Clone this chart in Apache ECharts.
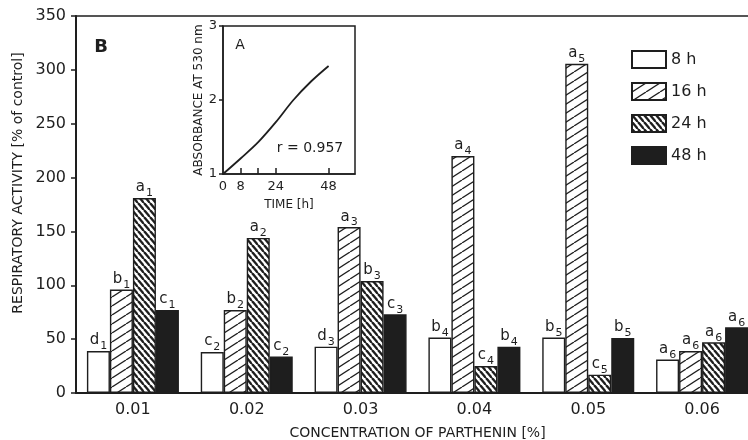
<!DOCTYPE html>
<html>
<head>
<meta charset="utf-8">
<title>Respiratory activity / parthenin</title>
<script src="https://cdn.jsdelivr.net/npm/echarts@6.0.0/dist/echarts.min.js"></script>
<style>
  html, body { margin: 0; padding: 0; background: #fff; }
  #chart { width: 748px; height: 440px; }
</style>
</head>
<body>
<div id="chart"></div>
<script>
// concentration categories
var concentrations = ['0.01', '0.02', '0.03', '0.04', '0.05', '0.06']
var seriesNames = ['8 h', '16 h', '24 h', '48 h']

// respiratory activity [% of control]
var resp8h  = [39, 38, 43, 51.5, 51.5, 31]
var resp16h = [96, 77, 154, 220, 305.6, 39]
var resp24h = [181, 144, 104, 25, 17, 47]
var resp48h = [77, 34, 73, 43, 51, 61]

// significance letters above bars
var labels8h  = ['d1', 'c2', 'd3', 'b4', 'b5', 'a6']
var labels16h = ['b1', 'b2', 'a3', 'a4', 'a5', 'a6']
var labels24h = ['a1', 'a2', 'b3', 'c4', 'c5', 'a6']
var labels48h = ['c1', 'c2', 'c3', 'b4', 'b5', 'a6']

// inset A: absorbance vs time
var insetTime = [0, 8, 16, 24, 32, 40, 48]
var insetAbs  = [1.0, 1.21, 1.43, 1.70, 2.00, 2.25, 2.46]
var insetTimeLabels = [0, 8, 24, 48]
var insetTimeTicks  = [8, 16, 24, 48]

var ink = '#1e1e1e'
var font = 'DejaVu Sans'

// hatch fill tiles
function hatch(w, h, dir, lw) {
    var c = document.createElement('canvas')
    c.width = w
    c.height = h
    var ctx = c.getContext('2d')
    ctx.fillStyle = '#fff'
    ctx.fillRect(0, 0, w, h)
    ctx.strokeStyle = ink
    ctx.lineWidth = lw
    for (var k = -1; k <= 1; k++) {
        ctx.beginPath()
        if (dir === '/') {
            ctx.moveTo(k * w, h)
            ctx.lineTo(k * w + w, 0)
        } else {
            ctx.moveTo(k * w, 0)
            ctx.lineTo(k * w + w, h)
        }
        ctx.stroke()
    }
    return c
}

var fills = [
    '#fff',
    { image: hatch(14, 9, '/', 1.3), repeat: 'repeat' },
    { image: hatch(6, 7, '\\', 2.4), repeat: 'repeat' },
    ink
]

function barSeries(name, data, labels, color) {
    return {
        name: name,
        type: 'bar',
        xAxisIndex: 0,
        yAxisIndex: 0,
        data: data,
        barWidth: 23,
        barGap: '0%',
        itemStyle: { color: color, borderColor: ink, borderWidth: 1.4 },
        label: {
            show: true,
            position: 'top',
            distance: 2,
            formatter: function (p) {
                var s = labels[p.dataIndex]
                return '{l|' + s.charAt(0) + '}{s|' + s.slice(1) + '}'
            },
            rich: {
                l: { fontFamily: font, fontSize: 15, color: ink, lineHeight: 16, verticalAlign: 'top' },
                s: { fontFamily: font, fontSize: 11, color: ink, lineHeight: 11, padding: [8, 0, 0, 1], verticalAlign: 'top' }
            }
        },
        emphasis: { disabled: true }
    }
}

var inset = []
for (var i = 0; i < insetTime.length; i++) {
    inset.push([insetTime[i], insetAbs[i]])
}

var chart = echarts.init(document.getElementById('chart'))
var option = {
    animation: false,
    backgroundColor: '#fff',
    textStyle: { fontFamily: font, color: ink },
    legend: {
        data: seriesNames,
        orient: 'vertical',
        left: 626,
        top: 45,
        icon: 'rect',
        itemWidth: 34,
        itemHeight: 17,
        itemGap: 13,
        textStyle: { fontFamily: font, fontSize: 16, color: ink },
        selectedMode: false
    },
    grid: [
        { left: 76, right: -11, top: 16, bottom: 47, outerBoundsMode: 'none', containLabel: false },
        { left: 223, top: 26, width: 132, height: 148, outerBoundsMode: 'none', containLabel: false, show: true, borderColor: ink, borderWidth: 1.5, backgroundColor: 'transparent' }
    ],
    xAxis: [
        {
            type: 'category',
            gridIndex: 0,
            data: concentrations,
            axisLine: { lineStyle: { color: ink, width: 2 } },
            axisTick: { show: false },
            axisLabel: { fontFamily: font, fontSize: 16, color: ink, margin: 9 },
            name: 'CONCENTRATION OF PARTHENIN [%]',
            nameLocation: 'middle',
            nameGap: 33,
            nameTextStyle: { fontFamily: font, fontSize: 14, color: ink }
        },
        {
            // top frame line
            type: 'category',
            gridIndex: 0,
            position: 'top',
            data: concentrations,
            axisLine: { lineStyle: { color: ink, width: 1.6 } },
            axisTick: { show: false },
            axisLabel: { show: false }
        },
        {
            type: 'value',
            gridIndex: 1,
            min: 0,
            max: 60,
            axisLine: { lineStyle: { color: ink, width: 1.5 } },
            axisTick: { inside: true, length: 6, customValues: insetTimeTicks, lineStyle: { color: ink, width: 1.5 } },
            axisLabel: { customValues: insetTimeLabels, fontFamily: font, fontSize: 13, color: ink, margin: 6 },
            splitLine: { show: false },
            name: 'TIME [h]',
            nameLocation: 'middle',
            nameGap: 25,
            nameTextStyle: { fontFamily: font, fontSize: 12, color: ink }
        }
    ],
    yAxis: [
        {
            type: 'value',
            gridIndex: 0,
            min: 0,
            max: 350,
            interval: 50,
            axisLine: { show: true, lineStyle: { color: ink, width: 2 } },
            axisTick: { show: true, length: 5, lineStyle: { color: ink, width: 1.5 } },
            axisLabel: { fontFamily: font, fontSize: 16, color: ink, margin: 10 },
            splitLine: { show: false }
        },
        {
            type: 'value',
            gridIndex: 1,
            min: 1,
            max: 3,
            interval: 1,
            axisLine: { show: true, lineStyle: { color: ink, width: 1.5 } },
            axisTick: { show: true, length: 4, lineStyle: { color: ink, width: 1.5 } },
            axisLabel: { fontFamily: font, fontSize: 13, color: ink, margin: 6 },
            splitLine: { show: false },
            name: 'ABSORBANCE AT 530 nm',
            nameLocation: 'middle',
            nameGap: 18,
            nameTextStyle: { fontFamily: font, fontSize: 12, color: ink }
        }
    ],
    graphic: [
        {
            type: 'text', x: 18, y: 183, rotation: Math.PI / 2,
            style: { text: 'RESPIRATORY ACTIVITY [% of control]', x: 0, y: 0, align: 'center', verticalAlign: 'middle', fontFamily: font, fontSize: 14, fill: ink }
        },
        {
            type: 'text', x: 101, y: 47,
            style: { text: 'B', align: 'center', verticalAlign: 'middle', fontFamily: font, fontSize: 18, fontWeight: 'bold', fill: ink }
        },
        {
            type: 'text', x: 240, y: 45,
            style: { text: 'A', align: 'center', verticalAlign: 'middle', fontFamily: font, fontSize: 14, fill: ink }
        },
        {
            type: 'text', x: 310, y: 148,
            style: { text: 'r = 0.957', align: 'center', verticalAlign: 'middle', fontFamily: font, fontSize: 14, fill: ink }
        }
    ],
    series: [
        barSeries(seriesNames[0], resp8h, labels8h, fills[0]),
        barSeries(seriesNames[1], resp16h, labels16h, fills[1]),
        barSeries(seriesNames[2], resp24h, labels24h, fills[2]),
        barSeries(seriesNames[3], resp48h, labels48h, fills[3]),
        {
            name: 'absorbance',
            type: 'line',
            xAxisIndex: 2,
            yAxisIndex: 1,
            data: inset,
            smooth: 0.35,
            showSymbol: false,
            lineStyle: { color: ink, width: 1.8 },
            emphasis: { disabled: true }
        }
    ]
}
chart.setOption(option)
</script>
</body>
</html>
